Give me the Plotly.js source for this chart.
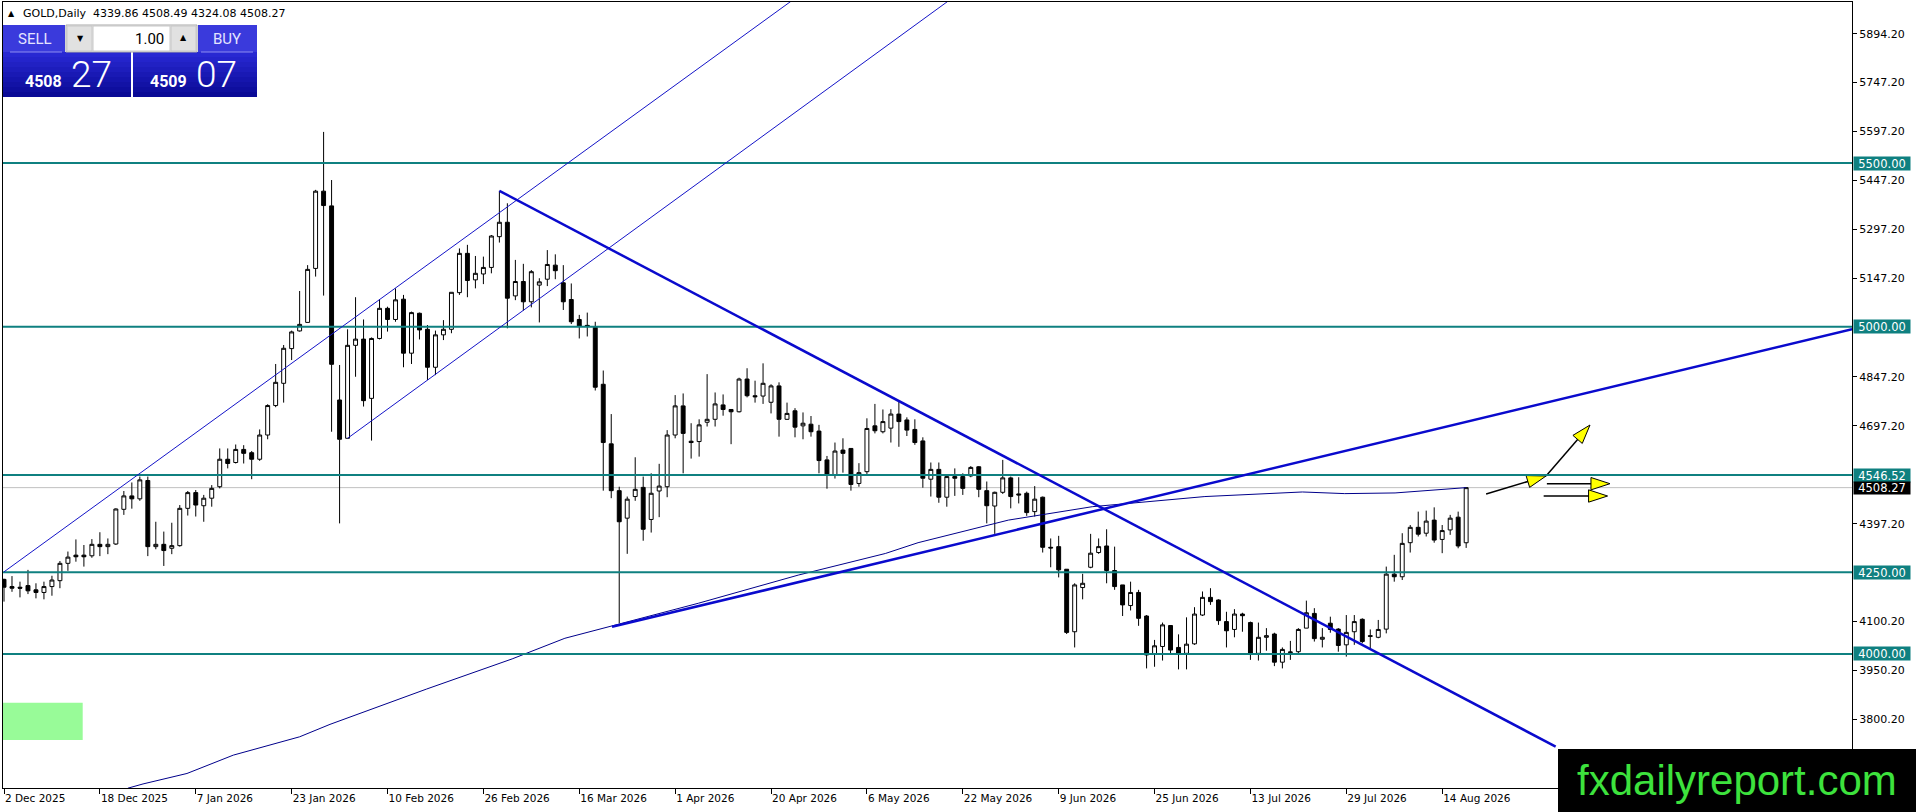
<!DOCTYPE html>
<html>
<head>
<meta charset="utf-8">
<script src="https://cdn.plot.ly/plotly-3.0.1.min.js"></script>
<style>
html,body{margin:0;padding:0;background:#fff;}
#chart{width:1916px;height:812px;}
</style>
</head>
<body>
<div id="chart"></div>
<script>
// ---------- DATA ----------
const opens = [4228,4206,4204,4209,4196,4188,4206,4224,4277,4302,
 4302,4300,4335,4328,4336,4442,4483,4474,4530,4328,
 4335,4323,4331,4445,4493,4453,4476,4511,4595,4585,
 4625,4615,4595,4669,4759,4827,4933,4987,5013,5178,
 5414,5369,4776,4659,4943,4962,4781,4964,5056,5022,
 5084,4919,5041,4992,4876,4975,4992,5104,5224,5143,
 5161,5181,5275,5319,5094,5138,5076,5127,5145,5188,
 5134,5083,5022,5004,4998,4824,4642,4499,4415,4481,
 4509,4411,4498,4511,4669,4758,4650,4649,4708,4717,
 4761,4747,4740,4840,4789,4788,4769,4819,4717,4743,
 4697,4702,4681,4593,4546,4623,4628,4521,4557,4697,
 4679,4690,4733,4715,4686,4651,4534,4564,4479,4542,
 4542,4544,4572,4499,4452,4494,4538,4489,4491,4435,
 4479,4326,4328,4259,4068,4203,4265,4310,4330,4255,
 4211,4148,4188,4116,4000,4023,4087,4020,4002,4031,
 4119,4173,4165,4099,4075,4122,4096,4002,4051,4061,
 3975,4004,4007,4079,4124,4045,4094,4076,4028,4068,
 4106,4056,4051,4076,4244,4236,4340,4387,4369,4409,
 4350,4379,4418,4339.86];
const highs = [4230,4238,4221,4257,4216,4221,4239,4284,4313,4350,
 4333,4351,4372,4353,4445,4498,4524,4542,4542,4404,
 4374,4401,4455,4498,4501,4486,4516,4628,4628,4640,
 4638,4620,4686,4763,4886,4944,4988,5109,5188,5418,
 5595,5448,4883,4992,5090,5022,4967,5084,5061,5117,
 5097,5046,5043,5005,4988,5020,5105,5239,5250,5216,
 5214,5280,5415,5377,5204,5192,5173,5148,5234,5221,
 5188,5132,5036,5043,5015,4866,4733,4511,4481,4601,
 4542,4552,4581,4684,4791,4796,4705,4717,4855,4799,
 4793,4747,4844,4873,4835,4888,4824,4830,4768,4751,
 4738,4727,4700,4605,4646,4659,4628,4583,4720,4764,
 4747,4748,4771,4723,4717,4662,4585,4585,4547,4567,
 4552,4574,4574,4527,4496,4593,4542,4540,4496,4513,
 4481,4353,4361,4259,4216,4245,4367,4353,4381,4328,
 4211,4221,4196,4119,4043,4096,4087,4060,4112,4143,
 4191,4201,4167,4129,4137,4126,4099,4096,4079,4065,
 4020,4040,4079,4163,4140,4079,4114,4079,4119,4119,
 4109,4075,4104,4267,4303,4369,4394,4435,4438,4448,
 4394,4425,4435,4508.49];
const lows = [4160,4190,4173,4183,4170,4167,4178,4201,4254,4282,
 4267,4294,4299,4305,4333,4425,4444,4468,4299,4320,
 4269,4305,4328,4423,4420,4404,4450,4506,4567,4582,
 4582,4534,4590,4656,4754,4768,4898,4985,5013,5153,
 5095,4679,4399,4659,4847,4756,4652,4961,4985,5015,
 4876,4886,4961,4837,4852,4959,4980,5097,5090,5117,
 5130,5163,5257,4995,5081,5049,5059,5013,5124,5145,
 5051,5008,4964,4970,4805,4499,4476,4094,4306,4468,
 4346,4371,4418,4479,4659,4552,4597,4603,4695,4695,
 4728,4641,4738,4784,4768,4764,4735,4664,4715,4662,
 4656,4664,4552,4505,4536,4554,4499,4511,4550,4674,
 4674,4646,4633,4666,4639,4508,4481,4462,4450,4483,
 4486,4540,4479,4399,4367,4489,4445,4460,4422,4420,
 4310,4265,4234,4061,4020,4167,4262,4306,4216,4196,
 4116,4133,4086,3956,3961,3980,4002,3953,3953,4028,
 4116,4150,4089,4020,4051,4068,3982,3980,4010,3963,
 3956,3982,3997,4079,4038,4020,4065,4007,3992,4028,
 4033,4017,4048,4063,4221,4226,4310,4359,4359,4340,
 4308,4364,4323,4324.08];
const closes = [4204,4201,4201,4193,4188,4206,4226,4277,4296,4297,
 4297,4335,4328,4335,4443,4483,4474,4532,4328,4335,
 4316,4331,4445,4493,4455,4476,4506,4595,4582,4625,
 4613,4595,4669,4759,4830,4934,4984,5007,5175,5414,
 5370,4885,4656,4943,4962,4774,4964,5056,5022,5082,
 4919,5043,4990,4876,4975,4992,5105,5224,5141,5163,
 5181,5277,5319,5087,5138,5076,5168,5137,5190,5171,
 5076,5015,5002,5002,4815,4646,4499,4404,4473,4503,
 4381,4491,4513,4669,4758,4674,4646,4700,4717,4764,
 4747,4740,4840,4789,4786,4827,4819,4717,4735,4693,
 4705,4679,4591,4546,4620,4613,4518,4554,4689,4682,
 4710,4733,4710,4684,4646,4537,4564,4479,4542,4537,
 4506,4570,4503,4453,4494,4538,4481,4486,4432,4473,
 4326,4324,4257,4066,4211,4216,4308,4328,4255,4206,
 4150,4188,4109,3997,4025,4089,4012,4002,4030,4122,
 4173,4160,4102,4071,4122,4117,4002,4051,4056,3975,
 4014,4006,4075,4126,4047,4051,4075,4026,4066,4099,
 4038,4054,4075,4244,4236,4338,4387,4366,4406,4348,
 4377,4415,4330,4508.27];

const dateTickBars = [0,12,24,36,48,60,72,84,96,108,120,132,144,156,168,180];
const dateTickLabels = ["2 Dec 2025","18 Dec 2025","7 Jan 2026","23 Jan 2026","10 Feb 2026","26 Feb 2026",
  "16 Mar 2026","1 Apr 2026","20 Apr 2026","6 May 2026","22 May 2026","9 Jun 2026",
  "25 Jun 2026","13 Jul 2026","29 Jul 2026","14 Aug 2026"];
const priceTicks = [5894.20,5747.20,5597.20,5447.20,5297.20,5147.20,4847.20,4697.20,4397.20,4100.20,3950.20,3800.20];
const levelPrices = [5500.00, 5000.00, 4546.52, 4250.00, 4000.00];
const bidPrice = 4508.27;

// moving-average style curve
const maBars   = [15.5,17.4,22.9,28.7,37,40.8,52.9,63.6,70.2,76.1,86.9,99.4,110.3,114.4,125.7,136.2,150.3,162.5,167.8,174.1,183];
const maValues = [3590,3603,3635,3691,3747,3785,3893,3985,4048,4085,4155,4241,4307,4340,4409,4450,4481,4495,4490,4492,4508.27];

// drawn trend lines (two anchor points each)
const channelUpperBars = [0, 70.8],   channelUpperPrices = [4251, 5504];
const channelLowerBars = [43, 70.8],  channelLowerPrices = [4659, 5153];
const downTrendBars    = [62, 194.2], downTrendPrices    = [5415, 3717];
const upTrendBars      = [76.1, 231.3], upTrendPrices    = [4083, 4992];
const greenBoxBars = [-0.3, 9.85], greenBoxPrices = [3737, 3851];

// yellow arrows
const arrowBars = [[185.5,193.0],[193.0,198.5],[193.1,201.0],[192.7,200.7]];
const arrowPrices = [[4488.8,4543.8],[4543.8,4699.6],[4520.3,4520.3],[4482.7,4482.7]];

// ---------- geometry ----------
const W = 1916, H = 812;
const M = {l:3, r:64, t:2, b:24};
const PW = W - M.l - M.r, PH = H - M.t - M.b;
const xMin = -0.125, xMax = 231.29;
const yMin = 3590.6, yMax = 5991.9;
const px = x => (x - M.l) / PW;
const py = y => (M.t + PH - y) / PH;

function extendTo(bars, prices, target) {
  const s = (prices[1]-prices[0])/(bars[1]-bars[0]);
  return bars[0] + (target - prices[0]) / s;
}

const BLUE = '#1414c8';
const TEAL = '#0f8080';
const shapes = [];
shapes.push({type:'line', xref:'paper', yref:'y', x0:0, x1:1, y0:bidPrice, y1:bidPrice, line:{color:'#c0c0c0', width:1}, layer:'below'});
levelPrices.forEach(p => shapes.push({type:'line', xref:'paper', yref:'y', x0:0, x1:1, y0:p, y1:p, line:{color:TEAL, width:2}, layer:'above'}));

shapes.push({type:'line', xref:'x', yref:'y', x0:channelUpperBars[0], y0:channelUpperPrices[0],
  x1:extendTo(channelUpperBars, channelUpperPrices, 6000), y1:6000, line:{color:BLUE, width:1}, layer:'above'});
shapes.push({type:'line', xref:'x', yref:'y', x0:channelLowerBars[0], y0:channelLowerPrices[0],
  x1:extendTo(channelLowerBars, channelLowerPrices, 6000), y1:6000, line:{color:BLUE, width:1}, layer:'above'});
shapes.push({type:'line', xref:'x', yref:'y', x0:downTrendBars[0], y0:downTrendPrices[0], x1:downTrendBars[1], y1:downTrendPrices[1], line:{color:'#0a0acd', width:2.5}, layer:'above'});
shapes.push({type:'line', xref:'x', yref:'y', x0:upTrendBars[0], y0:upTrendPrices[0], x1:upTrendBars[1], y1:upTrendPrices[1], line:{color:'#0a0acd', width:2.5}, layer:'above'});
shapes.push({type:'rect', xref:'x', yref:'y', x0:greenBoxBars[0], x1:greenBoxBars[1], y0:greenBoxPrices[0], y1:greenBoxPrices[1], fillcolor:'#98fb98', line:{width:0}, layer:'above'});

function prect(x0,y0,x1,y1,fill,lineColor){
  return {type:'rect', xref:'paper', yref:'paper', x0:px(x0), x1:px(x1), y0:py(y1), y1:py(y0),
    fillcolor:fill, line:{width:lineColor?1:0, color:lineColor||fill}, layer:'above'};
}
function mix(a,b,t){ return 'rgb(' + a.map((v,i)=>Math.round(v+(b[i]-v)*t)).join(',') + ')'; }

// trading panel
shapes.push(prect(3,25,65,52,'#3a3adc'));
shapes.push(prect(198,25,257,52,'#3a3adc'));
for (let k=0;k<9;k++){
  const c = mix([40,40,210],[10,10,150],k/8);
  shapes.push(prect(3,52+5*k,131,57+5*k,c));
  shapes.push(prect(133,52+5*k,257,57+5*k,c));
}
shapes.push({type:'line', xref:'paper', yref:'paper', x0:px(10), x1:px(62), y0:py(52), y1:py(52), line:{color:'#8c8cf0', width:1}, layer:'above'});
shapes.push({type:'line', xref:'paper', yref:'paper', x0:px(201), x1:px(253), y0:py(52), y1:py(52), line:{color:'#8c8cf0', width:1}, layer:'above'});
shapes.push(prect(66,25,197,52,'#f0f0f0','#a8a8a8'));
shapes.push(prect(67,26,92,51,'#e1e1e1','#c8c8c8'));
shapes.push(prect(93,26,170,51,'#ffffff','#c8c8c8'));
shapes.push(prect(171,26,196,51,'#e1e1e1','#c8c8c8'));
// watermark box
shapes.push(prect(1558,749,1916,812,'#000000'));

// ---------- annotations ----------
const ann = [];
function ptext(x,y,text,size,color,opts){
  return Object.assign({xref:'paper', yref:'paper', x:px(x), y:py(y), text:text, showarrow:false,
    xanchor:'left', yanchor:'middle', font:{family:'DejaVu Sans', size:size, color:color}}, opts||{});
}
const last = opens.length - 1;
ann.push(ptext(6,13,'▲',8,'#000'));
ann.push(ptext(21,13,'GOLD,Daily\u00a0\u00a0' + [opens[last],highs[last],lows[last],closes[last]].map(v=>v.toFixed(2)).join(' '),11,'#000'));
ann.push(ptext(35,39,'SELL',14,'#e4e4ff',{xanchor:'center', font:{family:'Roboto', size:15, color:'#e4e4ff'}}));
ann.push(ptext(227,39,'BUY',14,'#e4e4ff',{xanchor:'center', font:{family:'Roboto', size:15, color:'#e4e4ff'}}));
ann.push(ptext(166,39,'1.00',14,'#000',{xanchor:'right', font:{family:'Roboto', size:15, color:'#000'}}));
ann.push(ptext(80,39,'▼',8,'#000',{xanchor:'center'}));
ann.push(ptext(183,38,'▲',8,'#000',{xanchor:'center'}));
const bidStr = closes[last].toFixed(2), askStr = (closes[last]+0.80).toFixed(2);
ann.push(ptext(64,81,bidStr.slice(0,4),16,'#fff',{xanchor:'right', font:{family:'Roboto', size:16, color:'#fff', weight:700}}));
ann.push(ptext(69,74,bidStr.slice(5),37,'#fff',{font:{family:'Roboto', size:37, color:'#fff', weight:300}}));
ann.push(ptext(189,81,askStr.slice(0,4),16,'#fff',{xanchor:'right', font:{family:'Roboto', size:16, color:'#fff', weight:700}}));
ann.push(ptext(194,74,askStr.slice(5),37,'#fff',{font:{family:'Roboto', size:37, color:'#fff', weight:300}}));
ann.push(ptext(1737,780,'fxdailyreport.com',42,'#3de23d',{xanchor:'center', font:{family:'Liberation Sans', size:42, color:'#3de23d'}}));

levelPrices.forEach(p => ann.push({xref:'paper', yref:'y', x:1, xshift:1, y:p, xanchor:'left', yanchor:'middle',
  text:p.toFixed(2), showarrow:false, bgcolor:TEAL, width:56, height:13, borderpad:0, align:'center',
  font:{family:'DejaVu Sans', size:11.5, color:'#fff'}}));
ann.push({xref:'paper', yref:'y', x:1, xshift:1, y:bidPrice, xanchor:'left', yanchor:'middle',
  text:bidPrice.toFixed(2), showarrow:false, bgcolor:'#000', width:56, height:12, borderpad:0, align:'center',
  font:{family:'DejaVu Sans', size:11.5, color:'#fff'}});

// ---------- traces ----------
const traces = [];
traces.push({type:'candlestick', x:opens.map((_,i)=>i), open:opens, high:highs, low:lows, close:closes,
  increasing:{line:{color:'#000', width:1}, fillcolor:'#ffffff'},
  decreasing:{line:{color:'#000', width:1}, fillcolor:'#000000'},
  whiskerwidth:0, hoverinfo:'skip', showlegend:false});
traces.push({type:'scatter', mode:'lines', x:maBars, y:maValues, line:{color:'#00008b', width:1}, hoverinfo:'skip', showlegend:false});
arrowBars.forEach((b,i) => traces.push({type:'scatter', mode:'lines+markers', x:b, y:arrowPrices[i],
  line:{color:'#000', width:1.5},
  marker:{symbol:'arrow', size:[0,20], opacity:[0,1], angleref:'previous', color:'#ffff00', line:{color:'#000', width:1}},
  hoverinfo:'skip', showlegend:false, cliponaxis:false}));

const layout = {
  width:W, height:H, margin:M, paper_bgcolor:'#fff', plot_bgcolor:'#fff',
  showlegend:false, hovermode:false, dragmode:false,
  xaxis:{range:[xMin,xMax], tickvals:dateTickBars, ticktext:dateTickLabels, ticks:'outside', ticklen:5,
    tickcolor:'#000', tickwidth:1, ticklabelposition:'outside right',
    tickfont:{family:'DejaVu Sans', size:10.5, color:'#000'},
    showgrid:false, zeroline:false, showline:true, linecolor:'#000', linewidth:1, mirror:true,
    rangeslider:{visible:false}, fixedrange:true},
  yaxis:{side:'right', range:[yMin,yMax], tickvals:priceTicks, ticktext:priceTicks.map(v=>v.toFixed(2)),
    ticks:'outside', ticklen:4, tickcolor:'#000', tickfont:{family:'DejaVu Sans', size:11, color:'#000'},
    showgrid:false, zeroline:false, showline:true, linecolor:'#000', linewidth:1, mirror:true, fixedrange:true},
  shapes:shapes, annotations:ann
};
Plotly.newPlot('chart', traces, layout, {staticPlot:true, displayModeBar:false});
</script>
</body>
</html>
